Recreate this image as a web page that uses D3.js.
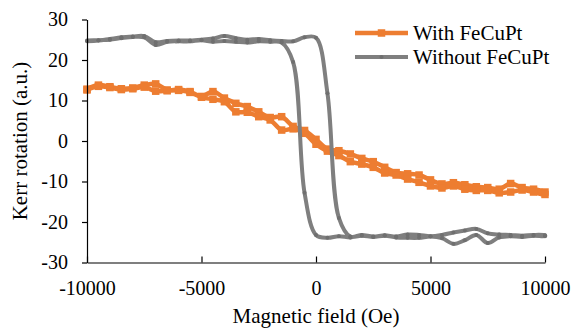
<!DOCTYPE html>
<html>
<head>
<meta charset="utf-8">
<script src="https://cdn.jsdelivr.net/npm/d3@7"></script>
<style>
  body { margin: 0; background: #fff; }
  svg { display: block; }
  text { font-family: 'Liberation Serif', 'Times New Roman', 'DejaVu Serif', serif; fill: #000; }
</style>
</head>
<body>
<svg id="chart" width="574" height="329"></svg>
<script>
// applied field (Oe), one value every 500 Oe
const field = [-10000, -9500, -9000, -8500, -8000, -7500, -7000, -6500, -6000, -5500,
  -5000, -4500, -4000, -3500, -3000, -2500, -2000, -1500, -1000, -500,
  0, 500, 1000, 1500, 2000, 2500, 3000, 3500, 4000, 4500,
  5000, 5500, 6000, 6500, 7000, 7500, 8000, 8500, 9000, 9500, 10000];

// With FeCuPt, sweep up (-10000 -> 10000)
const withUp = [12.8, 13.8, 13.4, 12.9, 13.1, 13.8, 14.1, 12.6, 12.7, 12.2,
  11.0, 12.2, 10.6, 9.3, 8.5, 7.2, 5.8, 6.0, 3.6, 2.6,
  0.4, -2.0, -2.4, -3.2, -4.3, -5.1, -6.5, -7.8, -8.1, -8.4,
  -9.6, -10.6, -10.3, -10.8, -11.3, -11.5, -11.9, -10.5, -11.5, -11.9, -12.6];
// With FeCuPt, sweep down (listed in field order)
const withDown = [12.6, 13.5, 13.2, 12.7, 12.9, 13.3, 12.3, 12.4, 12.5, 12.0,
  10.8, 10.3, 9.7, 7.2, 7.1, 6.0, 5.2, 2.7, 3.0, 1.9,
  -0.8, -2.5, -3.6, -5.1, -5.7, -6.5, -7.9, -8.4, -9.4, -10.2,
  -11.1, -11.6, -11.1, -11.9, -12.2, -12.2, -12.8, -12.6, -12.1, -12.6, -13.2];

// Without FeCuPt, sweep up
const withoutUp = [24.6, 24.8, 25.2, 25.6, 25.8, 25.9, 24.4, 24.7, 24.8, 24.8,
  25.0, 25.3, 25.9, 25.4, 25.0, 25.2, 24.9, 24.7, 24.6, 25.6,
  25.5, 11.8, -19.0, -23.6, -23.2, -23.6, -23.3, -23.6, -23.1, -23.2,
  -23.5, -23.2, -22.6, -22.1, -21.7, -22.8, -23.1, -23.2, -23.4, -23.2, -23.3];
// Without FeCuPt, sweep down (listed in field order)
const withoutDown = [24.8, 24.9, 25.0, 25.4, 25.7, 25.6, 23.7, 24.5, 24.6, 24.6,
  24.9, 24.5, 24.7, 24.5, 24.3, 24.6, 24.5, 24.3, 19.5, -12.8,
  -23.2, -23.9, -23.5, -23.8, -23.4, -23.7, -23.4, -23.8, -23.9, -23.9,
  -23.6, -24.0, -25.4, -24.5, -23.2, -25.2, -23.8, -23.5, -23.7, -23.4, -23.5];

const xTicks = [-10000, -5000, 0, 5000, 10000];
const yTicks = [-30, -20, -10, 0, 10, 20, 30];
const seriesNames = ['With FeCuPt', 'Without FeCuPt'];

const serif = "'Liberation Serif', 'Times New Roman', 'DejaVu Serif', serif";

const svg = d3.select('#chart');
const margin = { top: 19.5, right: 29, bottom: 66.5, left: 87 };
const width = 574, height = 329;
const innerWidth = width - margin.left - margin.right;
const innerHeight = height - margin.top - margin.bottom;

const x = d3.scaleLinear().domain([-10000, 10000]).range([0, innerWidth]);
const y = d3.scaleLinear().domain([-30, 30]).range([innerHeight, 0]);

const g = svg.append('g').attr('transform', `translate(${margin.left},${margin.top})`);

// loop = sweep up then sweep down back
function loop(up, down) {
  const pts = field.map((h, i) => ({ h, v: up[i] }));
  for (let i = field.length - 1; i >= 0; i--) pts.push({ h: field[i], v: down[i] });
  return pts;
}

const series = [
  { name: seriesNames[0], color: '#ED7D31', width: 4.5, data: loop(withUp, withDown), marker: 'square' },
  { name: seriesNames[1], color: '#7F7F7F', width: 4, data: loop(withoutUp, withoutDown), marker: 'dot' }
];

const line = d3.line()
  .x(d => x(d.h))
  .y(d => y(d.v))
  .curve(d3.curveCatmullRom.alpha(0.5));

const sq = 7.5;
series.forEach(s => {
  g.append('path')
    .datum(s.data)
    .attr('fill', 'none')
    .attr('stroke', s.color)
    .attr('stroke-width', s.width)
    .attr('stroke-linejoin', 'round')
    .attr('d', line);

  if (s.marker === 'square') {
    g.selectAll(null).data(s.data).enter().append('rect')
      .attr('x', d => x(d.h) - sq / 2)
      .attr('y', d => y(d.v) - sq / 2)
      .attr('width', sq).attr('height', sq)
      .attr('fill', s.color);
  } else {
    g.selectAll(null).data(s.data).enter().append('circle')
      .attr('cx', d => x(d.h))
      .attr('cy', d => y(d.v))
      .attr('r', 2)
      .attr('fill', '#6f6f6f');
  }
});

// axes, plain labels with ascii hyphen like the original
const plain = d => String(d);
const xAxis = g.append('g')
  .attr('transform', `translate(0,${innerHeight})`)
  .call(d3.axisBottom(x).tickValues(xTicks).tickFormat(plain)
    .tickSizeInner(-6).tickSizeOuter(0).tickPadding(18));
const yAxis = g.append('g')
  .call(d3.axisLeft(y).tickValues(yTicks).tickFormat(plain)
    .tickSize(5).tickSizeOuter(0).tickPadding(14));

[xAxis, yAxis].forEach(a => {
  a.attr('font-family', serif).attr('font-size', 20);
  a.select('.domain').attr('stroke', '#000').attr('stroke-width', 1.2);
  a.selectAll('.tick line').attr('stroke', '#000').attr('stroke-width', 1.2);
  a.selectAll('.tick text')
    .attr('fill', '#000')
    .attr('font-family', serif)
    .attr('font-size', 20);
});

// axis titles
svg.append('text')
  .attr('x', margin.left + innerWidth / 2)
  .attr('y', 323)
  .attr('text-anchor', 'middle')
  .attr('font-family', serif)
  .attr('font-size', 21)
  .text('Magnetic field (Oe)');

svg.append('text')
  .attr('transform', `translate(27,${margin.top + innerHeight / 2}) rotate(-90)`)
  .attr('text-anchor', 'middle')
  .attr('font-family', serif)
  .attr('font-size', 21)
  .text('Kerr rotation (a.u.)');

// legend
const legend = svg.append('g').attr('transform', 'translate(355,33)');
series.forEach((s, i) => {
  const row = legend.append('g').attr('transform', `translate(0,${i * 24})`);
  row.append('line')
    .attr('x1', 0).attr('x2', 53)
    .attr('stroke', s.color)
    .attr('stroke-width', s.width);
  if (s.marker === 'square') {
    row.append('rect').attr('x', 26.5 - sq / 2).attr('y', -sq / 2).attr('width', sq).attr('height', sq).attr('fill', s.color);
  } else {
    row.append('circle').attr('cx', 26.5).attr('r', 2).attr('fill', '#6f6f6f');
  }
  row.append('text')
    .attr('x', 58)
    .attr('y', 7)
    .attr('font-family', serif)
    .attr('font-size', 21)
    .text(s.name);
});
</script>
</body>
</html>
